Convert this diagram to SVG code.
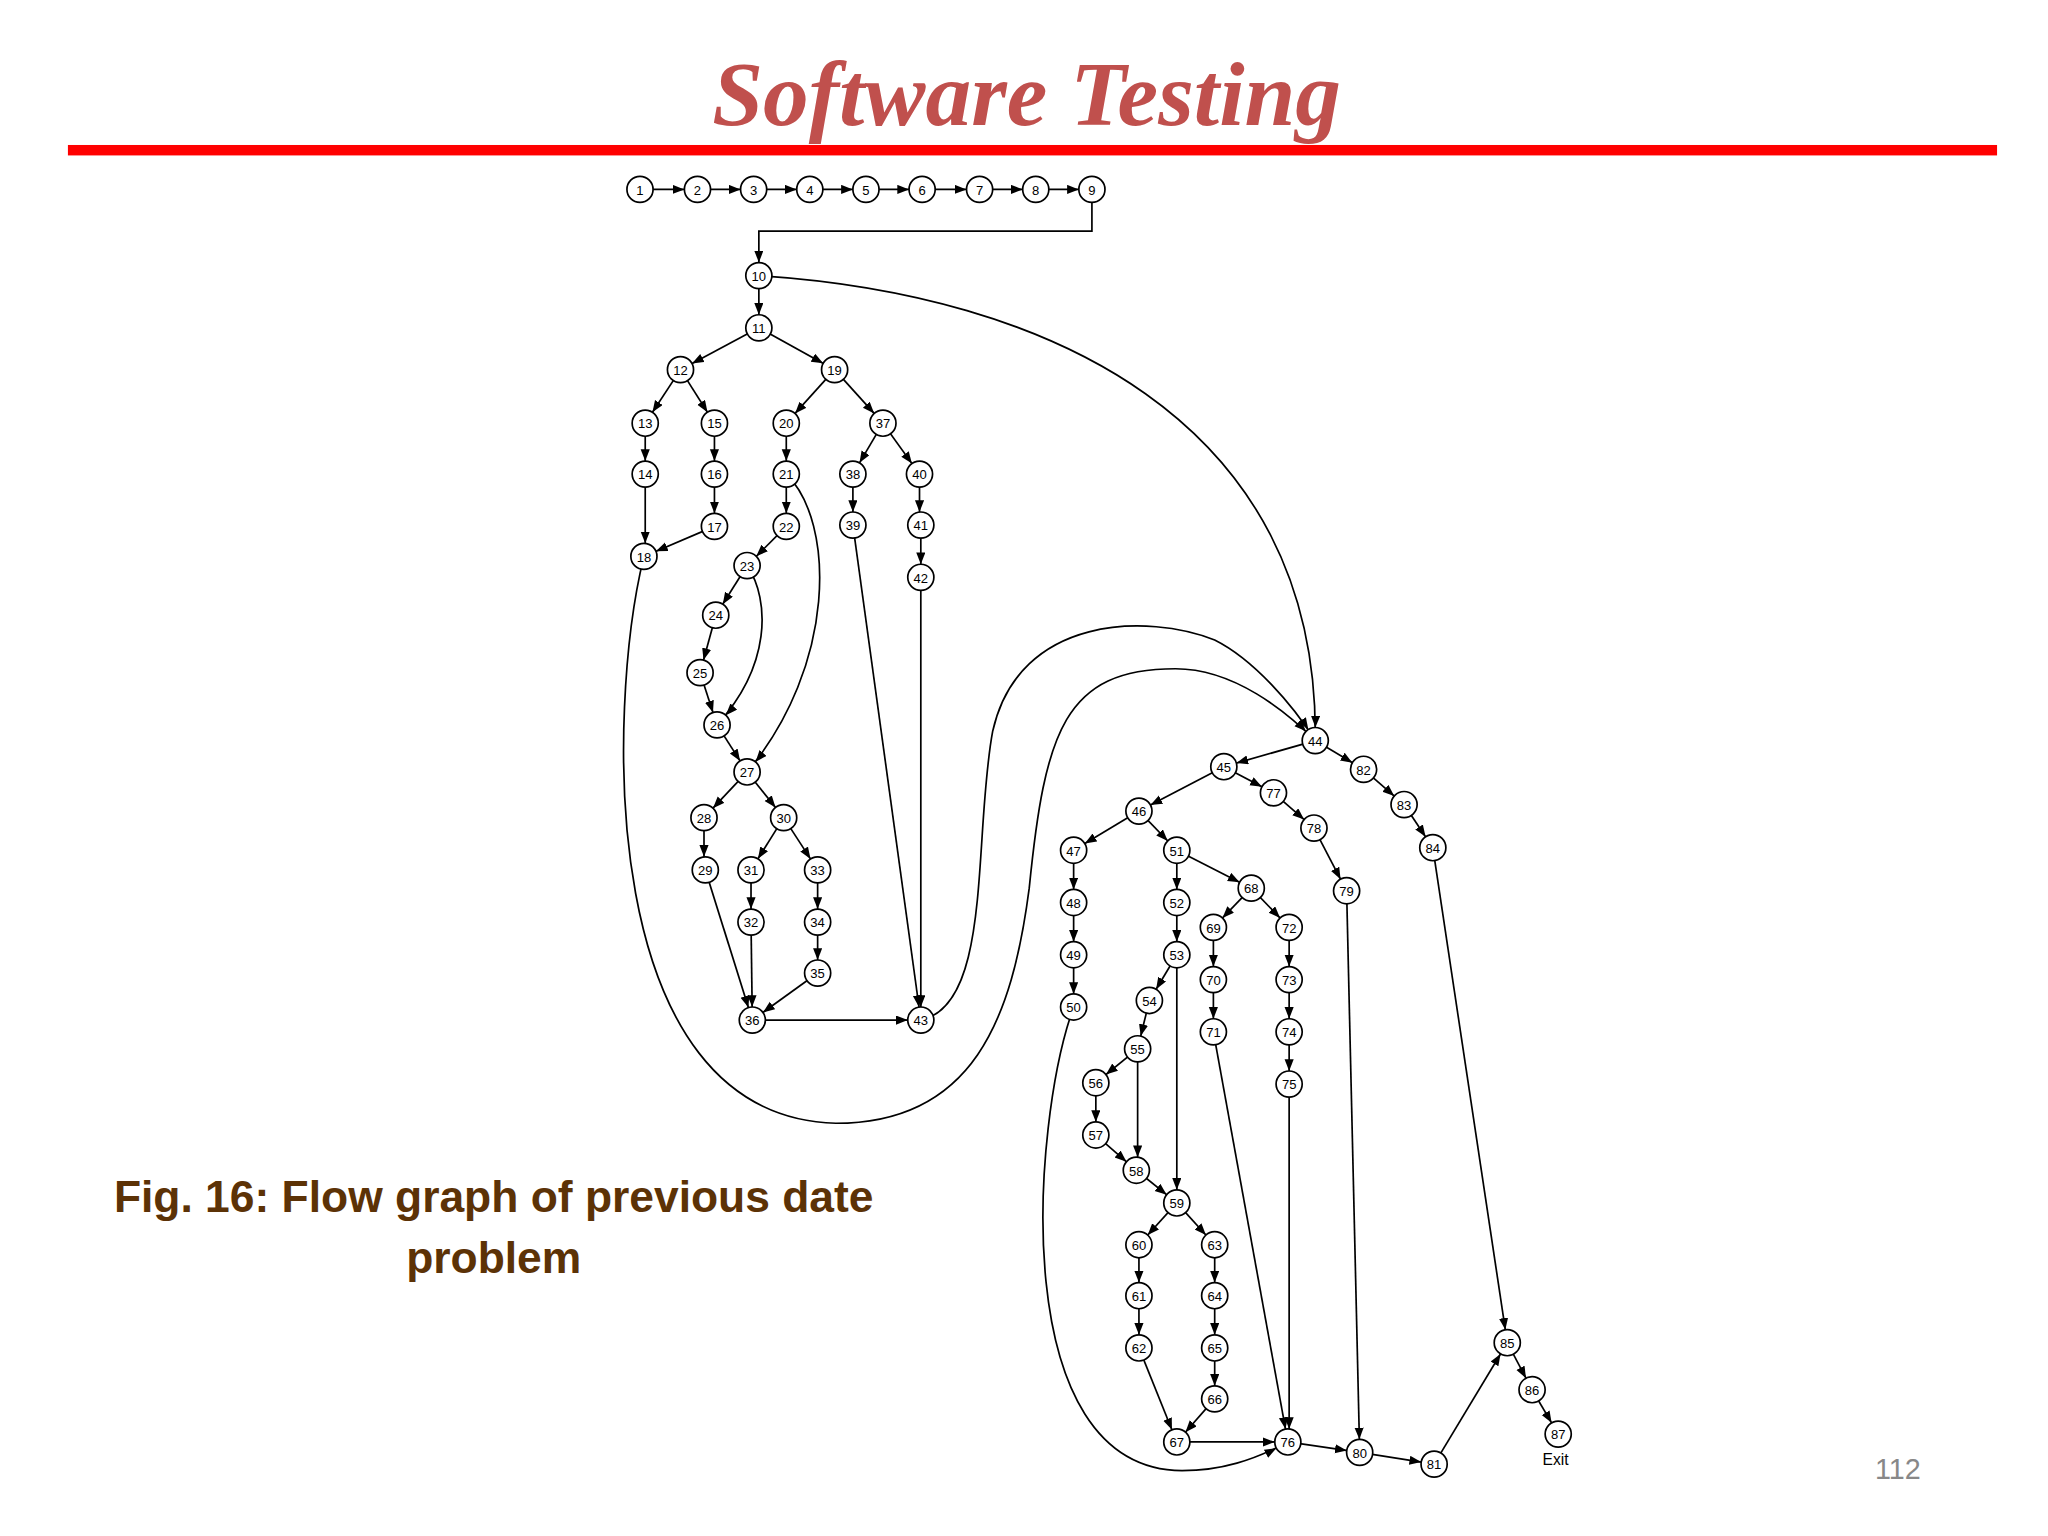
<svg xmlns="http://www.w3.org/2000/svg" width="2048" height="1536" viewBox="0 0 2048 1536">
<defs>
<marker id="ah" markerUnits="userSpaceOnUse" markerWidth="12" markerHeight="10" refX="19" refY="3.5" orient="auto"><path d="M0,0 L9,3.5 L0,7 z" fill="#000"/></marker>
<style>
.e{stroke:#000;stroke-width:1.3;fill:none;marker-end:url(#ah)}
.p{stroke:#000;stroke-width:1.3;fill:none}
.n circle{fill:#fff;stroke:#000;stroke-width:1.3}
.n text{font-family:"Liberation Sans",Arial,sans-serif;font-size:10px;text-anchor:middle;fill:#000}
</style>
</defs>
<rect width="2048" height="1536" fill="#fff"/>
<g transform="scale(1.30612)">
<text x="786" y="96" font-family="Liberation Serif,serif" font-style="italic" font-weight="bold" font-size="70" fill="#c0504d" text-anchor="middle">Software Testing</text>
<rect x="52" y="111" width="1477" height="8" fill="#f00"/>
<text x="378" y="928" font-family="Liberation Sans,sans-serif" font-weight="bold" font-size="34" fill="#5c3206" text-anchor="middle">Fig. 16: Flow graph of previous date</text>
<text x="378" y="975" font-family="Liberation Sans,sans-serif" font-weight="bold" font-size="34" fill="#5c3206" text-anchor="middle">problem</text>
<text x="1453" y="1132" font-family="Liberation Sans,sans-serif" font-size="22" fill="#888" text-anchor="middle">112</text>
<text x="1191" y="1122" font-family="Liberation Sans,sans-serif" font-size="12" fill="#000" text-anchor="middle">Exit</text>
<g id="connectors">
<path class="e" d="M490,145H534"/><path class="e" d="M534,145H577"/><path class="e" d="M577,145H620"/><path class="e" d="M620,145H663"/><path class="e" d="M663,145H706"/><path class="e" d="M706,145H750"/><path class="e" d="M750,145H793"/><path class="e" d="M793,145H836"/>
<path class="e" d="M836,145V177H581V211"/>
<path class="e" d="M581,211V251"/>
<path class="e" d="M581,251L521,283"/><path class="e" d="M581,251L639,283"/>
<path class="e" d="M521,283L494,324"/><path class="e" d="M521,283L547,324"/>
<path class="e" d="M639,283L602,324"/><path class="e" d="M639,283L676,324"/>
<path class="e" d="M494,324V363"/><path class="e" d="M547,324V363"/><path class="e" d="M602,324V363"/>
<path class="e" d="M676,324L653,363"/><path class="e" d="M676,324L704,363"/>
<path class="e" d="M494,363V426"/><path class="e" d="M547,363V403"/><path class="e" d="M547,403L493,426"/>
<path class="e" d="M602,363V403"/><path class="e" d="M602,403L572,433"/>
<path class="e" d="M653,363V402"/><path class="e" d="M704,363V402"/><path class="e" d="M705,402V442"/>
<path class="e" d="M572,433L548,471"/><path class="e" d="M548,471L536,515"/><path class="e" d="M536,515L549,555"/>
<path class="e" d="M572,433C590,460 590,510 549,555"/>
<path class="e" d="M602,363C640,400 640,510 572,591"/>
<path class="e" d="M549,555L572,591"/>
<path class="e" d="M572,591L539,626"/><path class="e" d="M572,591L600,626"/>
<path class="e" d="M539,626V666"/><path class="e" d="M600,626L575,666"/><path class="e" d="M600,626L626,666"/>
<path class="e" d="M575,666V706"/><path class="e" d="M626,666V706"/><path class="e" d="M626,706V745"/>
<path class="e" d="M540,666L576,781"/><path class="e" d="M575,706L576,781"/><path class="e" d="M626,745L576,781"/>
<path class="e" d="M576,781H705"/>
<path class="e" d="M653,402L705,781"/><path class="e" d="M705,442V781"/>
<path class="e" d="M581,211C800,225 1010,320 1007,567"/>
<path class="e" d="M705,781C760,770 745,640 760,560C780,470 880,470 930,490C960,505 990,540 1007,567"/>
<path class="e" d="M493,426C465,540 455,855 640,860C745,860 775,780 788,680C800,560 815,512 900,512C945,512 985,545 1007,567"/>
<path class="e" d="M1007,567L937,587"/><path class="e" d="M1007,567L1044,589"/>
<path class="e" d="M1044,589L1075,616"/><path class="e" d="M1075,616L1097,649"/>
<path class="e" d="M937,587L872,621"/><path class="e" d="M937,587L975,607"/>
<path class="e" d="M975,607L1006,634"/><path class="e" d="M1006,634L1031,682"/>
<path class="e" d="M872,621L822,651"/><path class="e" d="M872,621L901,651"/>
<path class="e" d="M822,651V691"/><path class="e" d="M822,691V731"/><path class="e" d="M822,731V771"/>
<path class="e" d="M901,651V691"/><path class="e" d="M901,691V731"/><path class="e" d="M901,651L958,680"/>
<path class="e" d="M958,680L929,710"/><path class="e" d="M958,680L987,710"/>
<path class="e" d="M929,710V750"/><path class="e" d="M929,750V790"/>
<path class="e" d="M987,710V750"/><path class="e" d="M987,750V790"/><path class="e" d="M987,790V830"/>
<path class="e" d="M901,731L880,766"/><path class="e" d="M880,766L871,803"/><path class="e" d="M871,803L839,829"/>
<path class="e" d="M839,829V869"/><path class="e" d="M839,869L870,896"/><path class="e" d="M871,803V896"/>
<path class="e" d="M870,896L901,921"/><path class="e" d="M901,731V921"/>
<path class="e" d="M901,921L872,953"/><path class="e" d="M901,921L930,953"/>
<path class="e" d="M872,953V992"/><path class="e" d="M872,992V1032"/>
<path class="e" d="M930,953V992"/><path class="e" d="M930,992V1032"/><path class="e" d="M930,1032V1071"/>
<path class="e" d="M872,1032L901,1104"/><path class="e" d="M930,1071L901,1104"/>
<path class="e" d="M901,1104H986"/>
<path class="e" d="M929,790L986,1104"/><path class="e" d="M987,830V1104"/>
<path class="e" d="M822,771C790,860 770,1125 905,1126C935,1126 960,1118 986,1104"/>
<path class="e" d="M986,1104L1041,1112"/><path class="e" d="M1031,682L1041,1112"/>
<path class="e" d="M1041,1112L1098,1121"/><path class="e" d="M1098,1121L1154,1028"/>
<path class="e" d="M1097,649L1154,1028"/>
<path class="e" d="M1154,1028L1173,1064"/><path class="e" d="M1173,1064L1193,1098"/>
</g>
<g class="n" id="n1"><circle cx="490" cy="145" r="10"/><text x="490" y="149">1</text></g>
<g class="n" id="n2"><circle cx="534" cy="145" r="10"/><text x="534" y="149">2</text></g>
<g class="n" id="n3"><circle cx="577" cy="145" r="10"/><text x="577" y="149">3</text></g>
<g class="n" id="n4"><circle cx="620" cy="145" r="10"/><text x="620" y="149">4</text></g>
<g class="n" id="n5"><circle cx="663" cy="145" r="10"/><text x="663" y="149">5</text></g>
<g class="n" id="n6"><circle cx="706" cy="145" r="10"/><text x="706" y="149">6</text></g>
<g class="n" id="n7"><circle cx="750" cy="145" r="10"/><text x="750" y="149">7</text></g>
<g class="n" id="n8"><circle cx="793" cy="145" r="10"/><text x="793" y="149">8</text></g>
<g class="n" id="n9"><circle cx="836" cy="145" r="10"/><text x="836" y="149">9</text></g>
<g class="n" id="n10"><circle cx="581" cy="211" r="10"/><text x="581" y="215">10</text></g>
<g class="n" id="n11"><circle cx="581" cy="251" r="10"/><text x="581" y="255">11</text></g>
<g class="n" id="n12"><circle cx="521" cy="283" r="10"/><text x="521" y="287">12</text></g>
<g class="n" id="n19"><circle cx="639" cy="283" r="10"/><text x="639" y="287">19</text></g>
<g class="n" id="n13"><circle cx="494" cy="324" r="10"/><text x="494" y="328">13</text></g>
<g class="n" id="n15"><circle cx="547" cy="324" r="10"/><text x="547" y="328">15</text></g>
<g class="n" id="n20"><circle cx="602" cy="324" r="10"/><text x="602" y="328">20</text></g>
<g class="n" id="n37"><circle cx="676" cy="324" r="10"/><text x="676" y="328">37</text></g>
<g class="n" id="n14"><circle cx="494" cy="363" r="10"/><text x="494" y="367">14</text></g>
<g class="n" id="n16"><circle cx="547" cy="363" r="10"/><text x="547" y="367">16</text></g>
<g class="n" id="n21"><circle cx="602" cy="363" r="10"/><text x="602" y="367">21</text></g>
<g class="n" id="n38"><circle cx="653" cy="363" r="10"/><text x="653" y="367">38</text></g>
<g class="n" id="n40"><circle cx="704" cy="363" r="10"/><text x="704" y="367">40</text></g>
<g class="n" id="n17"><circle cx="547" cy="403" r="10"/><text x="547" y="407">17</text></g>
<g class="n" id="n22"><circle cx="602" cy="403" r="10"/><text x="602" y="407">22</text></g>
<g class="n" id="n39"><circle cx="653" cy="402" r="10"/><text x="653" y="406">39</text></g>
<g class="n" id="n41"><circle cx="705" cy="402" r="10"/><text x="705" y="406">41</text></g>
<g class="n" id="n18"><circle cx="493" cy="426" r="10"/><text x="493" y="430">18</text></g>
<g class="n" id="n23"><circle cx="572" cy="433" r="10"/><text x="572" y="437">23</text></g>
<g class="n" id="n42"><circle cx="705" cy="442" r="10"/><text x="705" y="446">42</text></g>
<g class="n" id="n24"><circle cx="548" cy="471" r="10"/><text x="548" y="475">24</text></g>
<g class="n" id="n25"><circle cx="536" cy="515" r="10"/><text x="536" y="519">25</text></g>
<g class="n" id="n26"><circle cx="549" cy="555" r="10"/><text x="549" y="559">26</text></g>
<g class="n" id="n27"><circle cx="572" cy="591" r="10"/><text x="572" y="595">27</text></g>
<g class="n" id="n28"><circle cx="539" cy="626" r="10"/><text x="539" y="630">28</text></g>
<g class="n" id="n30"><circle cx="600" cy="626" r="10"/><text x="600" y="630">30</text></g>
<g class="n" id="n29"><circle cx="540" cy="666" r="10"/><text x="540" y="670">29</text></g>
<g class="n" id="n31"><circle cx="575" cy="666" r="10"/><text x="575" y="670">31</text></g>
<g class="n" id="n33"><circle cx="626" cy="666" r="10"/><text x="626" y="670">33</text></g>
<g class="n" id="n32"><circle cx="575" cy="706" r="10"/><text x="575" y="710">32</text></g>
<g class="n" id="n34"><circle cx="626" cy="706" r="10"/><text x="626" y="710">34</text></g>
<g class="n" id="n35"><circle cx="626" cy="745" r="10"/><text x="626" y="749">35</text></g>
<g class="n" id="n36"><circle cx="576" cy="781" r="10"/><text x="576" y="785">36</text></g>
<g class="n" id="n43"><circle cx="705" cy="781" r="10"/><text x="705" y="785">43</text></g>
<g class="n" id="n44"><circle cx="1007" cy="567" r="10"/><text x="1007" y="571">44</text></g>
<g class="n" id="n45"><circle cx="937" cy="587" r="10"/><text x="937" y="591">45</text></g>
<g class="n" id="n82"><circle cx="1044" cy="589" r="10"/><text x="1044" y="593">82</text></g>
<g class="n" id="n77"><circle cx="975" cy="607" r="10"/><text x="975" y="611">77</text></g>
<g class="n" id="n83"><circle cx="1075" cy="616" r="10"/><text x="1075" y="620">83</text></g>
<g class="n" id="n46"><circle cx="872" cy="621" r="10"/><text x="872" y="625">46</text></g>
<g class="n" id="n78"><circle cx="1006" cy="634" r="10"/><text x="1006" y="638">78</text></g>
<g class="n" id="n84"><circle cx="1097" cy="649" r="10"/><text x="1097" y="653">84</text></g>
<g class="n" id="n47"><circle cx="822" cy="651" r="10"/><text x="822" y="655">47</text></g>
<g class="n" id="n51"><circle cx="901" cy="651" r="10"/><text x="901" y="655">51</text></g>
<g class="n" id="n68"><circle cx="958" cy="680" r="10"/><text x="958" y="684">68</text></g>
<g class="n" id="n79"><circle cx="1031" cy="682" r="10"/><text x="1031" y="686">79</text></g>
<g class="n" id="n48"><circle cx="822" cy="691" r="10"/><text x="822" y="695">48</text></g>
<g class="n" id="n52"><circle cx="901" cy="691" r="10"/><text x="901" y="695">52</text></g>
<g class="n" id="n69"><circle cx="929" cy="710" r="10"/><text x="929" y="714">69</text></g>
<g class="n" id="n72"><circle cx="987" cy="710" r="10"/><text x="987" y="714">72</text></g>
<g class="n" id="n49"><circle cx="822" cy="731" r="10"/><text x="822" y="735">49</text></g>
<g class="n" id="n53"><circle cx="901" cy="731" r="10"/><text x="901" y="735">53</text></g>
<g class="n" id="n70"><circle cx="929" cy="750" r="10"/><text x="929" y="754">70</text></g>
<g class="n" id="n73"><circle cx="987" cy="750" r="10"/><text x="987" y="754">73</text></g>
<g class="n" id="n50"><circle cx="822" cy="771" r="10"/><text x="822" y="775">50</text></g>
<g class="n" id="n54"><circle cx="880" cy="766" r="10"/><text x="880" y="770">54</text></g>
<g class="n" id="n71"><circle cx="929" cy="790" r="10"/><text x="929" y="794">71</text></g>
<g class="n" id="n74"><circle cx="987" cy="790" r="10"/><text x="987" y="794">74</text></g>
<g class="n" id="n55"><circle cx="871" cy="803" r="10"/><text x="871" y="807">55</text></g>
<g class="n" id="n75"><circle cx="987" cy="830" r="10"/><text x="987" y="834">75</text></g>
<g class="n" id="n56"><circle cx="839" cy="829" r="10"/><text x="839" y="833">56</text></g>
<g class="n" id="n57"><circle cx="839" cy="869" r="10"/><text x="839" y="873">57</text></g>
<g class="n" id="n58"><circle cx="870" cy="896" r="10"/><text x="870" y="900">58</text></g>
<g class="n" id="n59"><circle cx="901" cy="921" r="10"/><text x="901" y="925">59</text></g>
<g class="n" id="n60"><circle cx="872" cy="953" r="10"/><text x="872" y="957">60</text></g>
<g class="n" id="n63"><circle cx="930" cy="953" r="10"/><text x="930" y="957">63</text></g>
<g class="n" id="n61"><circle cx="872" cy="992" r="10"/><text x="872" y="996">61</text></g>
<g class="n" id="n64"><circle cx="930" cy="992" r="10"/><text x="930" y="996">64</text></g>
<g class="n" id="n62"><circle cx="872" cy="1032" r="10"/><text x="872" y="1036">62</text></g>
<g class="n" id="n65"><circle cx="930" cy="1032" r="10"/><text x="930" y="1036">65</text></g>
<g class="n" id="n66"><circle cx="930" cy="1071" r="10"/><text x="930" y="1075">66</text></g>
<g class="n" id="n67"><circle cx="901" cy="1104" r="10"/><text x="901" y="1108">67</text></g>
<g class="n" id="n76"><circle cx="986" cy="1104" r="10"/><text x="986" y="1108">76</text></g>
<g class="n" id="n80"><circle cx="1041" cy="1112" r="10"/><text x="1041" y="1116">80</text></g>
<g class="n" id="n81"><circle cx="1098" cy="1121" r="10"/><text x="1098" y="1125">81</text></g>
<g class="n" id="n85"><circle cx="1154" cy="1028" r="10"/><text x="1154" y="1032">85</text></g>
<g class="n" id="n86"><circle cx="1173" cy="1064" r="10"/><text x="1173" y="1068">86</text></g>
<g class="n" id="n87"><circle cx="1193" cy="1098" r="10"/><text x="1193" y="1102">87</text></g>
</g>
</svg>
